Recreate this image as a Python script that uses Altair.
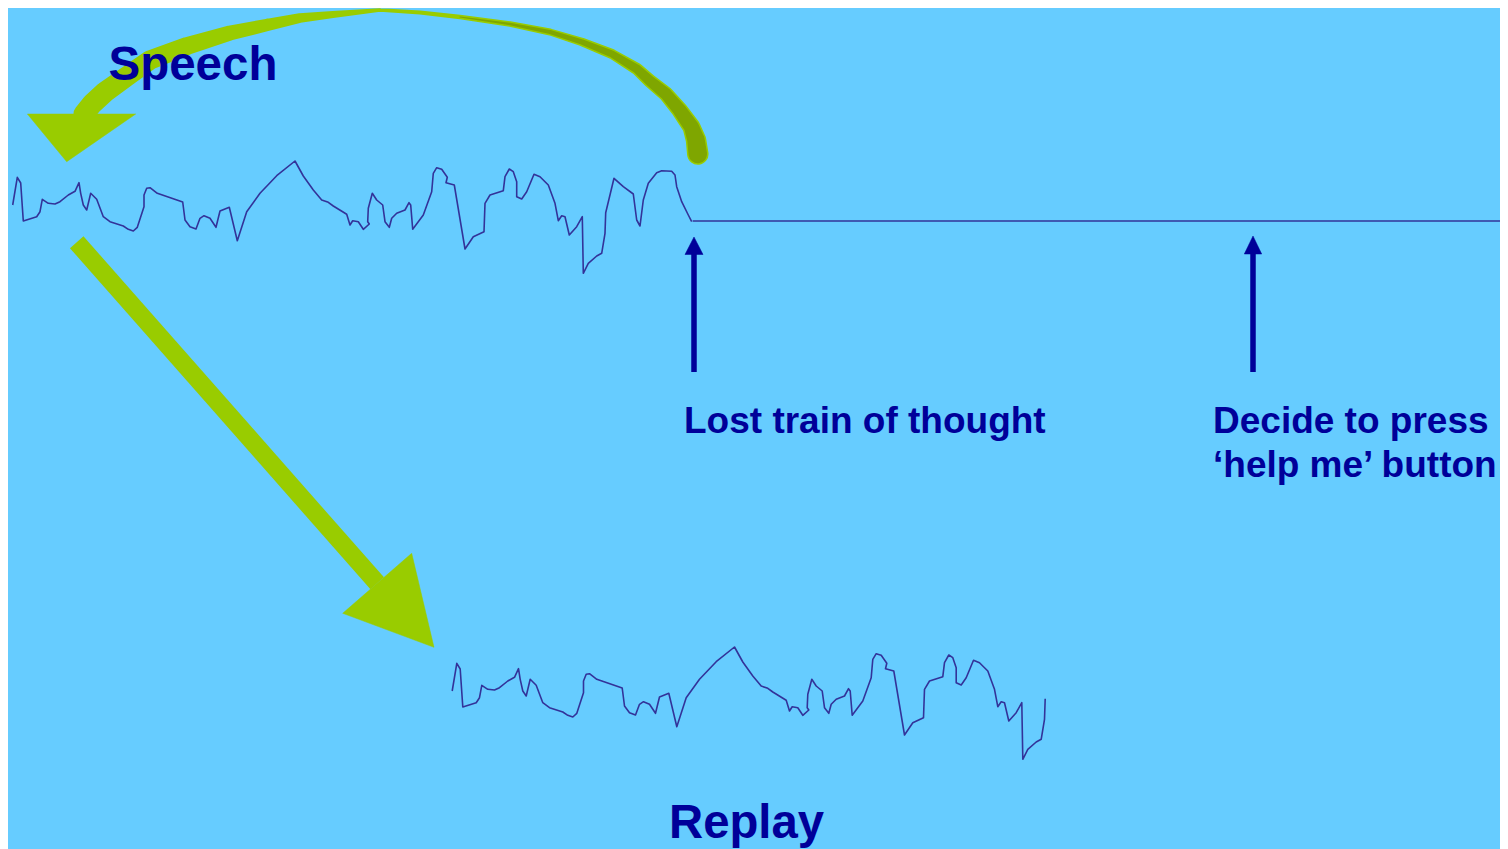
import altair as alt
import pandas as pd

BG = "#66CCFF"
WAVE = "#333399"
NAVY = "#000099"
GREEN = "#99CC00"
OLIVE = "#7FA600"
FONT = "Liberation Sans"

# speech waveform (picture pixel coordinates)
speech_x = [12.7, 17.3, 20.7, 23.3, 36.7, 40, 42.3, 48.3, 55, 60, 68.3, 75, 79, 80.7, 83.3, 86.7,
            90.7, 96.7, 103.3, 110, 123.3, 128.3, 133.3, 137.3, 144, 144, 146.7, 150, 157.3, 182.7,
            185, 190, 196, 200, 204, 210, 216, 220, 229.3, 237.3, 246.7, 260, 276.7, 295, 303.3,
            313.3, 321.7, 328.3, 333.3, 346.7, 350, 352.7, 358.3, 363.3, 369.3, 367.7, 368.3, 372.3,
            376.7, 382.7, 385, 389.3, 391.7, 396.7, 405, 409, 410.7, 412.7, 423.3, 431.7, 433.3,
            436.7, 441.7, 447.3, 446, 454.3, 465, 473.3, 484, 485, 490, 503.3, 505, 509.3, 513.3,
            516.7, 516.7, 521.7, 526.7, 534, 540, 548.3, 555, 558.3, 561.7, 565, 569.3, 576.7, 582.3,
            583.3, 588.3, 596.7, 601.7, 605, 605.7,
            614, 623.3, 633.3, 636.7, 640, 643.3, 648.3, 656.7, 661.7, 671.7, 675, 676.7, 681.7,
            688.3, 691.7]
speech_y = [205, 177.3, 183, 221, 216.7, 211.7, 199.3, 203.3, 204, 201.7, 195, 191.3, 182.7, 193.3,
            205, 210, 193.3, 199.3, 216.7, 221.7, 226, 229.3, 231, 227.3, 206.7, 195, 188.3, 187.7,
            193.3, 202, 220, 226.7, 229, 218.3, 215.7, 218.3, 227.3, 211, 207.3, 240.7, 211.7, 193.3,
            175.7, 161, 176, 190, 200, 202.3, 206, 214.3, 225, 220.7, 221.7, 229.3, 224, 221.7, 208.3,
            193.3, 200, 205, 221.7, 227.3, 218.3, 213.3, 210, 202.7, 205, 229.3, 215, 191.7, 173.3,
            167.7, 169.3, 177.3, 182.7, 185, 249, 236.7, 231.7, 203.3, 195, 190.7, 176.7, 169, 171.7,
            181.7, 196.7, 199, 191.7, 174.3, 176.7, 185, 203.3, 220.7, 215.7, 216.7, 235, 226.7, 216.7,
            273.3, 263.3, 256, 253.3, 233.3, 212.7,
            178.3, 186.7, 194, 220, 226, 200, 183.3, 172.7, 170.7, 171.3, 175, 186.7, 201.7, 215,
            221.7]

# the replay is the first part of the same speech, placed lower right
replay_len = 105
replay_dx = 439.5
replay_dy = 486

# silence after the speech stops
flat_x = [692.7, 1508]
flat_y = [221, 221]

# curved green arrow body (centre line and width)
arc_x = [697.8, 696, 691.5, 679.5, 666, 650, 637, 612, 582, 550, 510, 460, 420, 380,
         333, 300, 267, 230, 187, 150, 126, 105, 92, 84]
arc_y = [154, 140, 127, 110, 94, 81, 69, 54, 42, 32, 24, 17, 12.5, 10,
         14.5, 18, 25, 33, 46, 60, 77, 92, 104, 114]
arc_w = [21.5, 20.5, 18, 16.5, 15, 13.5, 12, 10, 8.5, 7, 5.5, 4.5, 4, 3.5,
         7, 9.5, 12.5, 15, 18, 19.5, 20, 21, 21, 21]
olive_w = [18.5, 17.5, 15, 13.5, 12, 10.5, 9, 7, 5.5, 4, 2.5, 1.2]

# straight green arrow shaft
shaft_x = [76.7, 377.2]
shaft_y = [242.2, 583.3]

# arrow heads: id, vertex x, vertex y
green_head_id = ["curved", "curved", "curved", "curved", "straight", "straight", "straight", "straight"]
green_head_x = [27.4, 135.7, 66.7, 27.4, 342.7, 411.7, 434, 342.7]
green_head_y = [114, 114, 161.7, 114, 613.3, 553.3, 647.3, 613.3]

navy_head_id = ["lost", "lost", "lost", "lost", "help", "help", "help", "help"]
navy_head_x = [685, 703, 694, 685, 1244.3, 1261.7, 1253, 1244.3]
navy_head_y = [254.5, 254.5, 237, 254.5, 254, 254, 236, 254]

# navy arrow shafts
navy_shaft_x = [694, 1253]
navy_shaft_y1 = [372, 372]
navy_shaft_y2 = [252, 252]

# labels
label_text = ["Speech", "Lost train of thought", "Decide to press", "\u2018help me\u2019 button", "Replay"]
label_x = [108.5, 684, 1213, 1213, 669]
label_y = [80, 432.7, 432.7, 476.7, 838]
label_size = [47.5, 37, 37, 37, 47.3]

xs = alt.Scale(domain=[8, 1500], nice=False, zero=False)
ys = alt.Scale(domain=[8, 849], nice=False, zero=False, reverse=True)


def X(f="x"):
    return alt.X(f"{f}:Q", scale=xs, axis=None)


def Y(f="y"):
    return alt.Y(f"{f}:Q", scale=ys, axis=None)


speech_df = pd.DataFrame({"x": speech_x, "y": speech_y, "i": range(len(speech_x))})
replay_df = pd.DataFrame({
    "x": [v + replay_dx for v in speech_x[:replay_len]],
    "y": [v + replay_dy for v in speech_y[:replay_len]],
    "i": range(replay_len),
})
flat_df = pd.DataFrame({"x": flat_x, "y": flat_y, "i": [0, 1]})
arc_df = pd.DataFrame({"x": arc_x, "y": arc_y, "w": arc_w, "i": range(len(arc_x))})
olive_df = pd.DataFrame({"x": arc_x[:len(olive_w)], "y": arc_y[:len(olive_w)], "w": olive_w,
                         "i": range(len(olive_w))})
shaft_df = pd.DataFrame({"x": [shaft_x[0]], "y": [shaft_y[0]], "x2": [shaft_x[1]], "y2": [shaft_y[1]]})
gh_df = pd.DataFrame({"id": green_head_id, "x": green_head_x, "y": green_head_y,
                      "i": list(range(len(green_head_x)))})
nh_df = pd.DataFrame({"id": navy_head_id, "x": navy_head_x, "y": navy_head_y,
                      "i": list(range(len(navy_head_x)))})
ns_df = pd.DataFrame({"x": navy_shaft_x, "y": navy_shaft_y1, "y2": navy_shaft_y2})
lab_df = pd.DataFrame({"t": label_text, "x": label_x, "y": label_y, "s": label_size})

arc = alt.Chart(arc_df).mark_trail(color=GREEN).encode(
    x=X(), y=Y(), order="i:Q", size=alt.Size("w:Q", scale=None, legend=None))
olive = alt.Chart(olive_df).mark_trail(color=OLIVE).encode(
    x=X(), y=Y(), order="i:Q", size=alt.Size("w:Q", scale=None, legend=None))
shaft = alt.Chart(shaft_df).mark_rule(color=GREEN, strokeWidth=18, strokeCap="butt").encode(
    x=X(), y=Y(), x2="x2:Q", y2="y2:Q")
green_heads = alt.Chart(gh_df).mark_line(fill=GREEN, stroke=GREEN, strokeWidth=0.5).encode(
    x=X(), y=Y(), order="i:Q", detail="id:N")
navy_shafts = alt.Chart(ns_df).mark_rule(color=NAVY, strokeWidth=5.5, strokeCap="butt").encode(
    x=X(), y=Y(), y2="y2:Q")
navy_heads = alt.Chart(nh_df).mark_line(fill=NAVY, stroke=NAVY, strokeWidth=0.5).encode(
    x=X(), y=Y(), order="i:Q", detail="id:N")
speech = alt.Chart(speech_df).mark_line(color=WAVE, strokeWidth=1.6, strokeJoin="round").encode(
    x=X(), y=Y(), order="i:Q")
replay = alt.Chart(replay_df).mark_line(color=WAVE, strokeWidth=1.6, strokeJoin="round").encode(
    x=X(), y=Y(), order="i:Q")
flat = alt.Chart(flat_df).mark_line(color=WAVE, strokeWidth=1.6).encode(x=X(), y=Y(), order="i:Q")
labels = alt.Chart(lab_df).mark_text(align="left", baseline="alphabetic", font=FONT,
                                     fontWeight="bold", color=NAVY).encode(
    x=X(), y=Y(), text="t:N", size=alt.Size("s:Q", scale=None, legend=None))

chart = alt.layer(arc, olive, green_heads, shaft, speech, replay, flat, navy_shafts, navy_heads,
                  labels).properties(
    width=1492, height=841, padding=0, autosize=alt.AutoSizeParams(type="none"),
    background=BG,
).configure_view(stroke=None)

chart.save("out.html", embed_options={"renderer": "svg", "actions": False})
